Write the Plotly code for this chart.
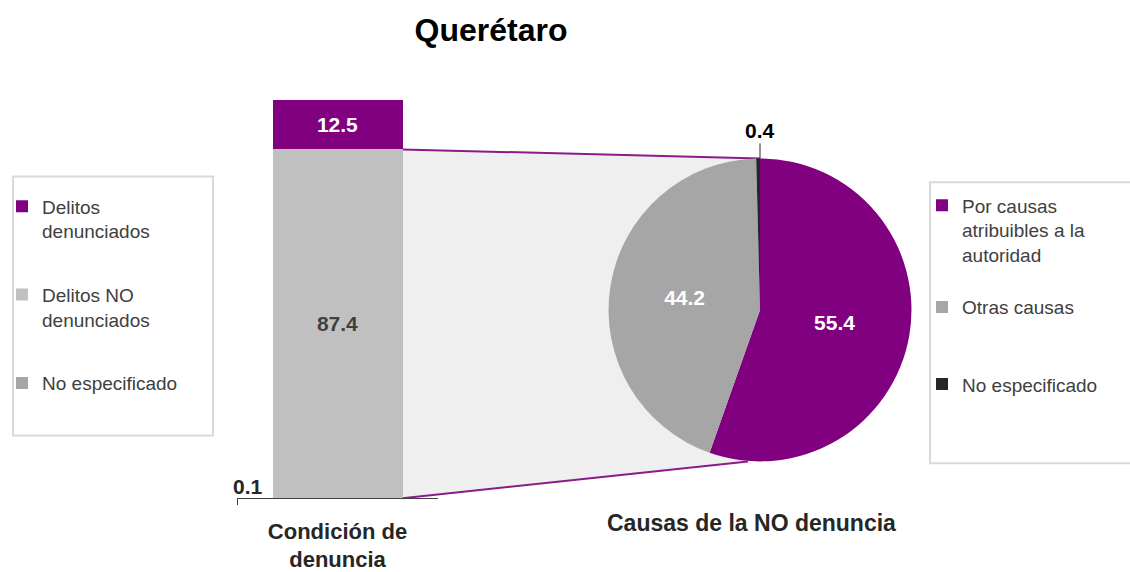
import plotly.graph_objects as go

W, H = 1130, 572

# ---- data ----
bar_category = ["Condición de<br>denuncia"]
bar_names = ["No especificado", "Delitos NO<br>denunciados", "Delitos<br>denunciados"]
bar_values = [0.1, 87.4, 12.5]
bar_colors = ["#a6a6a6", "#c0c0c0", "#800080"]
bar_text_colors = ["#262626", "#404040", "#ffffff"]

pie_labels = ["Por causas<br>atribuibles a la<br>autoridad", "Otras causas", "No especificado"]
pie_values = [55.4, 44.2, 0.4]
pie_colors = ["#800080", "#a6a6a6", "#262626"]

title = "Querétaro"
pie_caption = "Causas de la NO denuncia"

FONT = "Arial, Liberation Sans, sans-serif"


def px_x(p):
    # screen pixel -> paper
    return p / W


def px_y(p):
    return 1 - p / H


# ---- geometry (screen pixels) ----
BAR_AX = (237, 438)        # x extent of the bar's category axis
BAR_TOP, BAR_BOT = 100, 500
BAR_W = 130 / (BAR_AX[1] - BAR_AX[0])
PIE_C = (760, 311)
PIE_R = 152

total = sum(bar_values)

fig = go.Figure()

for i, (name, v, c, tc) in enumerate(zip(bar_names, bar_values, bar_colors, bar_text_colors)):
    fig.add_trace(go.Bar(
        x=bar_category, y=[v], name=name, marker_color=c,
        marker_line_width=0, legendgroup=name, legendrank=len(bar_names) - i,
        text=[f"{v:.1f}"], textposition="inside" if v > 5 else "none",
        insidetextanchor="middle",
        textfont=dict(size=21, color=tc, family=FONT, weight="bold"),
        hoverinfo="name+y",
    ))

# legend lines padded so the entries sit near the reference spacing
pad = [1, 2, 0]
fig.add_trace(go.Pie(
    labels=[l + "<br> " * p for l, p in zip(pie_labels, pad)],
    values=pie_values, sort=False, direction="clockwise", rotation=0,
    marker=dict(colors=pie_colors, line=dict(width=0)),
    text=[f"{v:.1f}" for v in pie_values], textinfo="text",
    textposition=["inside" if v > 5 else "none" for v in pie_values],
    insidetextorientation="horizontal",
    textfont=dict(size=21, color="white", family=FONT, weight="bold"),
    domain=dict(x=[px_x(PIE_C[0] - PIE_R), px_x(PIE_C[0] + PIE_R)],
                y=[px_y(PIE_C[1] + PIE_R), px_y(PIE_C[1] - PIE_R)]),
    legend="legend2", hoverinfo="label+value",
))

# connector between the bar and the pie
bar_right = BAR_AX[0] + (0.5 + BAR_W / 2) * (BAR_AX[1] - BAR_AX[0])
scale = (BAR_BOT - BAR_TOP) / total
top_y = BAR_BOT - (bar_values[0] + bar_values[1]) * scale
p1 = (px_x(bar_right), px_y(top_y))
p2 = (px_x(PIE_C[0]), px_y(PIE_C[1] - PIE_R))
p3 = (px_x(PIE_C[0] - 12), px_y(PIE_C[1] + PIE_R))
p4 = (px_x(bar_right), px_y(BAR_BOT))
path = "M {} {} L {} {} L {} {} L {} {} Z".format(*p1, *p2, *p3, *p4)
shapes = [
    dict(type="path", path=path, xref="paper", yref="paper",
         fillcolor="#efefef", line_width=0, layer="below"),
    dict(type="line", x0=p1[0], y0=p1[1], x1=p2[0], y1=p2[1],
         xref="paper", yref="paper", line=dict(color="#8b1a8b", width=2), layer="below"),
    dict(type="line", x0=p4[0], y0=p4[1], x1=p3[0], y1=p3[1],
         xref="paper", yref="paper", line=dict(color="#8b1a8b", width=2), layer="below"),
    # legend frames
    dict(type="rect", x0=px_x(13), x1=px_x(213), y0=px_y(177), y1=px_y(437),
         xref="paper", yref="paper", line=dict(color="#d9d9d9", width=2)),
    dict(type="rect", x0=px_x(930), x1=px_x(1140), y0=px_y(183), y1=px_y(465),
         xref="paper", yref="paper", line=dict(color="#d9d9d9", width=2)),
]

annotations = [
    dict(x=-BAR_W / 2, y=bar_values[0], xref="x", yref="y",
         text=f"{bar_values[0]:.1f}", showarrow=False,
         xanchor="right", yanchor="bottom", xshift=-8, yshift=-2,
         font=dict(size=21, color="#262626", family=FONT, weight="bold")),
    dict(x=px_x(PIE_C[0]), y=px_y(PIE_C[1] - PIE_R), xref="paper", yref="paper",
         text=f"{pie_values[2]:.1f}", showarrow=True, arrowhead=0,
         arrowwidth=1, arrowcolor="#262626", ax=0, ay=-28,
         font=dict(size=21, color="black", family=FONT, weight="bold")),
    dict(x=px_x(751), y=px_y(525), xref="paper", yref="paper",
         xanchor="center", yanchor="middle",
         text=pie_caption, showarrow=False,
         font=dict(size=23, color="#262626", family=FONT, weight="bold")),
]

fig.update_layout(
    width=W, height=H, margin=dict(l=0, r=0, t=0, b=0),
    paper_bgcolor="white", plot_bgcolor="rgba(0,0,0,0)",
    barmode="stack", bargap=1 - BAR_W,
    font=dict(family=FONT, color="#404040"),
    title=dict(text=title, x=px_x(491), y=px_y(30), xanchor="center",
               yanchor="middle",
               font=dict(size=32, color="black", family=FONT, weight="bold")),
    legend=dict(x=px_x(2), y=px_y(188), xanchor="left", yanchor="top",
                traceorder="grouped", tracegroupgap=36, valign="top",
                font=dict(size=19, color="#404040"),
                bgcolor="rgba(0,0,0,0)", borderwidth=0),
    legend2=dict(x=px_x(922), y=px_y(187), xanchor="left", yanchor="top",
                 valign="top", font=dict(size=19, color="#404040"),
                 bgcolor="rgba(0,0,0,0)", borderwidth=0),
    xaxis=dict(domain=[px_x(BAR_AX[0]), px_x(BAR_AX[1])], range=[-0.5, 0.5],
               type="category", showline=True, linecolor="#404040", linewidth=1,
               ticks="outside", tickson="boundaries", ticklen=6,
               tickcolor="#404040", showgrid=False, fixedrange=True,
               ticklabelstandoff=13,
               tickfont=dict(size=22, color="#262626", family=FONT, weight="bold")),
    yaxis=dict(domain=[px_y(BAR_BOT), px_y(BAR_TOP)], range=[0, total],
               visible=False, fixedrange=True),
    shapes=shapes, annotations=annotations,
    showlegend=True,
)

# drop the default page margin so the figure fills the window exactly
fig.write_html("out.html", config={"displayModeBar": False},
               post_script="document.body.style.margin='0';"
                           "document.body.style.overflow='hidden';")
